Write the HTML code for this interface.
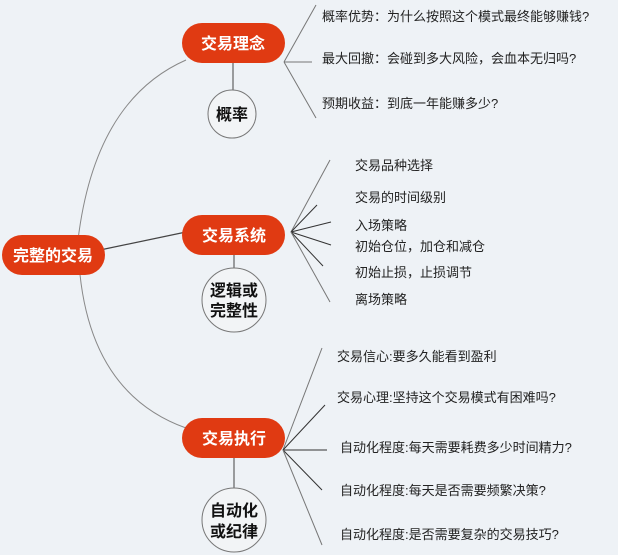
<!DOCTYPE html><html><head><meta charset="utf-8"><style>
html,body{margin:0;padding:0;background:#eef2f6;}
svg{display:block}
text{font-family:"Liberation Sans","Noto Sans CJK SC",sans-serif;}
.w{fill:#fff;font-size:16px;font-weight:bold;text-anchor:middle}
.t{fill:#222;font-size:13px}
.c{fill:#111;font-size:16px;font-weight:bold;text-anchor:middle}
</style></head><body>
<svg width="618" height="555" viewBox="0 0 618 555">
<rect width="618" height="555" fill="#eef2f6"/>
<path d="M186,60 Q95,100 78,240 Q80,390 186,428" fill="none" stroke="#888" stroke-width="1"/>
<line x1="100" y1="250" x2="186" y2="232" stroke="#444" stroke-width="1.2"/>
<g stroke="#777" stroke-width="1">
<line x1="284" y1="62" x2="316" y2="5"/><line x1="284" y1="62" x2="312" y2="62"/><line x1="284" y1="62" x2="316" y2="118"/>
<line x1="291" y1="232" x2="330" y2="160"/><line x1="291" y1="232" x2="317" y2="205" stroke="#333"/><line x1="291" y1="232" x2="331" y2="222" stroke="#333"/>
<line x1="291" y1="232" x2="331" y2="245" stroke="#333"/><line x1="291" y1="232" x2="323" y2="266" stroke="#333"/><line x1="291" y1="232" x2="330" y2="302"/>
<line x1="283" y1="450" x2="322" y2="348"/><line x1="283" y1="450" x2="325" y2="405" stroke="#333"/><line x1="283" y1="450" x2="327" y2="450" stroke="#333"/>
<line x1="283" y1="450" x2="322" y2="490" stroke="#333"/><line x1="283" y1="450" x2="322" y2="545"/>
<line x1="233" y1="63" x2="233" y2="90" stroke="#444"/><line x1="234" y1="255" x2="234" y2="268" stroke="#444"/><line x1="234" y1="458" x2="234" y2="488" stroke="#444"/>
</g>
<rect x="2" y="235" width="103" height="40" rx="20" fill="#e03a12"/><text class="w" x="53" y="261">完整的交易</text>
<rect x="182" y="23" width="103" height="40" rx="20" fill="#e03a12"/><text class="w" x="233" y="49">交易理念</text>
<rect x="182" y="215" width="103" height="40" rx="20" fill="#e03a12"/><text class="w" x="234" y="241">交易系统</text>
<rect x="182" y="418" width="103" height="40" rx="20" fill="#e03a12"/><text class="w" x="234" y="444">交易执行</text>
<circle cx="232" cy="114" r="24" fill="#f2f4f6" stroke="#777"/><text class="c" x="232" y="120">概率</text>
<circle cx="234" cy="300" r="32" fill="#f2f4f6" stroke="#777"/><text class="c" x="234" y="296">逻辑或</text><text class="c" x="234" y="316">完整性</text>
<circle cx="234" cy="520" r="32" fill="#f2f4f6" stroke="#777"/><text class="c" x="234" y="516">自动化</text><text class="c" x="234" y="537">或纪律</text>
<text class="t" x="322" y="21">概率优势：为什么按照这个模式最终能够赚钱?</text>
<text class="t" x="322" y="63">最大回撤：会碰到多大风险，会血本无归吗?</text>
<text class="t" x="322" y="108">预期收益：到底一年能赚多少?</text>
<text class="t" x="355" y="170">交易品种选择</text>
<text class="t" x="355" y="202">交易的时间级别</text>
<text class="t" x="355" y="230">入场策略</text>
<text class="t" x="355" y="251">初始仓位，加仓和减仓</text>
<text class="t" x="355" y="277">初始止损，止损调节</text>
<text class="t" x="355" y="304">离场策略</text>
<text class="t" x="337" y="361">交易信心:要多久能看到盈利</text>
<text class="t" x="337" y="402">交易心理:坚持这个交易模式有困难吗?</text>
<text class="t" x="340" y="452">自动化程度:每天需要耗费多少时间精力?</text>
<text class="t" x="340" y="495">自动化程度:每天是否需要频繁决策?</text>
<text class="t" x="340" y="539">自动化程度:是否需要复杂的交易技巧?</text>
</svg>
</body></html>
